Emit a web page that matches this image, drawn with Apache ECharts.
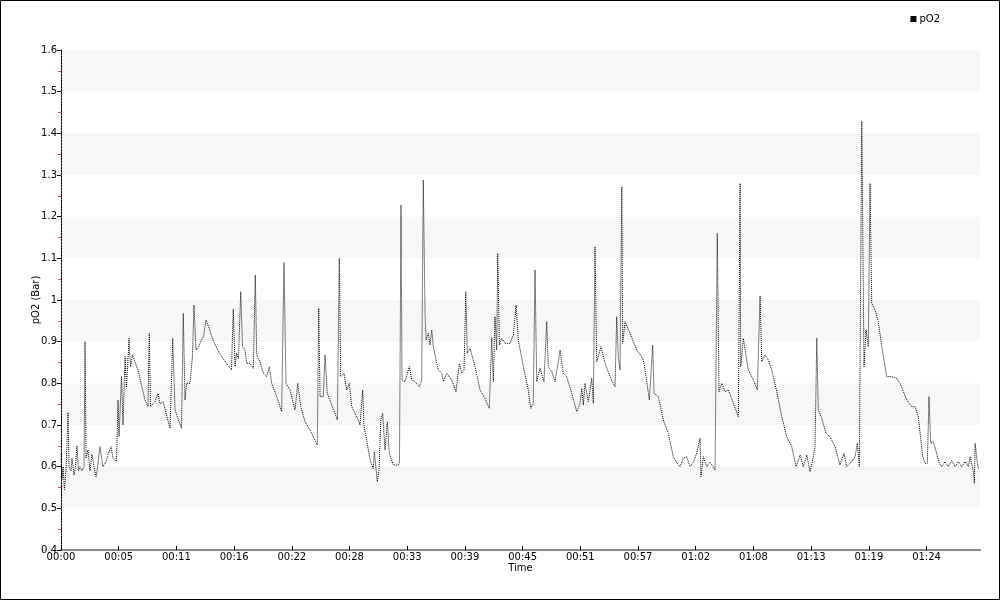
<!DOCTYPE html>
<html>
<head>
<meta charset="utf-8">
<script src="https://cdn.jsdelivr.net/npm/echarts@6/dist/echarts.min.js"></script>
<style>
html,body{margin:0;padding:0;background:#fff;}
#chart{width:1000px;height:600px;}
</style>
</head>
<body>
<div id="chart"></div>
<script>
// Time in minutes since start
const times = [0,0.10,0.20,0.34,0.49,0.69,0.79,0.98,1.08,1.28,1.42,1.57,1.72,1.87,2.06,2.26,2.36,2.46,2.65,2.85,3.04,3.24,3.44,3.54,3.83,4.12,4.42,4.62,4.91,5.11,5.45,5.60,5.70,5.94,6.09,6.29,6.43,6.68,6.83,7.02,7.56,8.25,8.54,8.67,8.79,9.23,9.53,9.72,10.02,10.71,10.97,11.20,11.83,12.01,12.18,12.33,12.67,12.91,13.06,13.26,13.50,13.80,14.00,14.24,14.49,14.98,15.62,16.25,16.74,16.92,17.09,17.24,17.43,17.65,17.83,18.07,18.24,18.56,18.89,19.08,19.22,19.54,19.87,20.20,20.46,20.69,21.18,21.67,21.90,22.10,22.49,22.98,23.25,23.54,23.96,24.45,25.17,25.31,25.44,25.76,25.93,26.15,26.59,27.14,27.33,27.47,27.79,28.06,28.31,28.55,28.87,29.20,29.36,29.63,29.76,30.02,30.35,30.67,30.77,31.06,31.23,31.40,31.59,31.82,32.05,32.24,32.64,33.13,33.24,33.39,33.49,33.78,34.21,34.44,34.77,35.19,35.42,35.58,35.75,35.85,36.07,36.24,36.41,36.56,36.83,37.06,37.39,37.55,37.88,38.37,38.79,39.12,39.35,39.58,39.75,39.90,40.17,40.66,41.15,41.64,42.06,42.30,42.46,42.62,42.79,42.89,43.05,43.28,43.61,44.10,44.42,44.69,44.91,45.40,45.89,46.13,46.38,46.55,46.72,47.04,47.43,47.70,47.85,48.19,48.51,48.84,49.01,49.33,49.66,50.06,50.65,50.97,51.14,51.30,51.46,51.79,52.12,52.28,52.44,52.61,53.03,53.43,53.92,54.41,54.57,54.73,54.90,55.07,55.16,55.39,55.71,56.21,56.54,57.03,57.26,57.78,58.11,58.24,58.66,59.15,59.64,60.13,60.47,60.79,61.12,61.45,61.78,62.10,62.43,62.76,62.85,63.08,63.41,63.74,64.03,64.23,64.45,64.62,64.89,65.21,65.54,66.03,66.52,66.69,66.75,67.01,67.18,67.50,67.99,68.38,68.65,68.82,69.14,69.46,69.80,70.29,70.78,71.27,71.76,72.19,72.58,72.90,73.24,73.56,73.88,74.05,74.22,74.37,74.71,75.13,75.52,76.01,76.50,76.90,77.16,77.65,77.98,78.20,78.40,78.64,78.86,79.06,79.28,79.45,79.62,79.94,80.27,80.60,81.09,81.58,82.07,82.40,83.06,83.55,83.87,84.19,84.63,84.85,85.08,85.24,85.41,85.67,86.00,86.26,86.49,86.81,87.14,87.47,87.80,88.13,88.46,88.78,89.11,89.28,89.60,89.70,89.77,89.99,90.11];
// pO2 in bar
const po2 = [0.63,0.57,0.60,0.545,0.59,0.73,0.60,0.59,0.62,0.58,0.60,0.65,0.59,0.60,0.59,0.60,0.90,0.62,0.64,0.59,0.63,0.60,0.576,0.59,0.648,0.60,0.612,0.63,0.648,0.62,0.612,0.76,0.672,0.816,0.70,0.864,0.79,0.908,0.84,0.868,0.832,0.76,0.744,0.92,0.744,0.756,0.776,0.75,0.756,0.692,0.908,0.736,0.692,0.968,0.76,0.80,0.80,0.864,0.988,0.88,0.888,0.904,0.912,0.952,0.936,0.90,0.87,0.848,0.832,0.978,0.84,0.872,0.86,1.02,0.888,0.88,0.848,0.848,0.836,1.06,0.868,0.852,0.824,0.816,0.84,0.80,0.768,0.732,1.09,0.80,0.784,0.736,0.80,0.744,0.708,0.688,0.652,0.98,0.768,0.768,0.868,0.776,0.748,0.712,1.10,0.816,0.824,0.784,0.80,0.744,0.728,0.712,0.70,0.784,0.696,0.664,0.616,0.596,0.636,0.564,0.59,0.712,0.728,0.64,0.708,0.632,0.604,0.604,0.61,1.228,0.808,0.804,0.84,0.808,0.804,0.792,0.808,1.288,0.968,0.904,0.92,0.892,0.928,0.888,0.856,0.832,0.824,0.804,0.824,0.808,0.78,0.848,0.824,0.832,1.02,0.872,0.884,0.84,0.784,0.764,0.74,0.91,0.804,0.96,0.88,1.112,0.892,0.908,0.896,0.896,0.916,0.988,0.904,0.84,0.784,0.74,0.752,1.072,0.804,0.836,0.804,0.948,0.84,0.828,0.804,0.852,0.88,0.824,0.816,0.784,0.732,0.752,0.788,0.748,0.80,0.756,0.812,0.752,1.128,0.852,0.888,0.848,0.816,0.792,0.96,0.864,0.832,1.272,0.896,0.948,0.93,0.90,0.88,0.864,0.848,0.76,0.892,0.776,0.768,0.712,0.68,0.624,0.61,0.60,0.62,0.624,0.60,0.61,0.632,0.668,0.576,0.624,0.60,0.61,0.60,0.592,1.16,0.78,0.80,0.78,0.784,0.752,0.72,1.28,0.84,0.908,0.88,0.832,0.808,0.784,1.01,0.852,0.868,0.856,0.832,0.78,0.72,0.672,0.648,0.60,0.628,0.60,0.628,0.588,0.624,0.648,0.908,0.736,0.716,0.68,0.672,0.648,0.604,0.632,0.60,0.612,0.624,0.656,0.60,1.43,0.84,0.928,0.888,1.28,0.992,0.976,0.948,0.888,0.816,0.816,0.812,0.80,0.76,0.744,0.744,0.72,0.624,0.608,0.608,0.768,0.656,0.66,0.632,0.608,0.60,0.612,0.60,0.615,0.60,0.612,0.60,0.612,0.60,0.624,0.588,0.56,0.656,0.61,0.595];
const xTickLabels = ['00:00','00:05','00:11','00:16','00:22','00:28','00:33','00:39','00:45','00:51','00:57','01:02','01:08','01:13','01:19','01:24'];
const seriesName = 'pO2';
const yAxisName = 'pO2 (Bar)';
const xAxisName = 'Time';

const xInterval = 17 / 3; // minutes between labelled ticks
const chart = echarts.init(document.getElementById('chart'), null, {renderer: 'canvas'});
const font = 'DejaVu Sans';
const data = times.map((t, i) => [t, po2[i]]);

chart.setOption({
  animation: false,
  backgroundColor: '#fff',
  textStyle: {fontFamily: font},
  graphic: [{
    type: 'rect', z: 100, silent: true,
    shape: {x: 0.5, y: 0.5, width: 999, height: 599},
    style: {fill: 'none', stroke: '#000', lineWidth: 1}
  }],
  legend: {
    right: 55, top: 9,
    itemWidth: 6, itemHeight: 6, itemGap: 10, icon: 'rect',
    textStyle: {fontFamily: font, fontSize: 10, color: '#000', padding: [0, 0, 0, -2]},
    data: [seriesName]
  },
  grid: {left: 61, right: 20, top: 50, bottom: 50, containLabel: false},
  xAxis: {
    type: 'value', min: 0, max: 90.25, interval: xInterval,
    name: xAxisName, nameLocation: 'middle', nameGap: 13, nameMoveOverlap: false,
    nameTextStyle: {fontFamily: font, fontSize: 10, color: '#000', verticalAlign: 'top'},
    axisLine: {show: true, lineStyle: {color: '#888', width: 2}},
    axisTick: {show: true, inside: true, length: 4, lineStyle: {color: '#000'}},
    axisLabel: {
      fontFamily: font, fontSize: 10, color: '#000', margin: 2,
      showMaxLabel: false,
      formatter: function (v) {
        const idx = Math.round(v / xInterval);
        if (Math.abs(idx * xInterval - v) > 0.01) return '';
        return xTickLabels[idx] || '';
      }
    },
    splitLine: {show: false}
  },
  yAxis: {
    type: 'value', min: 0.4, max: 1.6, interval: 0.1,
    name: yAxisName, nameLocation: 'middle', nameGap: 20, nameMoveOverlap: false,
    nameTextStyle: {fontFamily: font, fontSize: 10, color: '#000'},
    axisLine: {show: true, lineStyle: {color: '#000', width: 1, type: [2, 1]}},
    axisTick: {show: true, length: 4, lineStyle: {color: '#000'}},
    minorTick: {show: true, splitNumber: 2, length: 3, lineStyle: {color: '#ff4040'}},
    axisLabel: {
      fontFamily: font, fontSize: 10, color: '#000', margin: 4,
      formatter: function (v) { return String(Math.round(v * 10) / 10); }
    },
    splitLine: {show: false},
    splitArea: {show: true, areaStyle: {color: ['rgba(255,255,255,0)', '#f7f7f7']}}
  },
  series: [{
    name: seriesName,
    type: 'line',
    data: data,
    showSymbol: false,
    symbol: 'rect',
    itemStyle: {color: '#000'},
    lineStyle: {color: '#000', width: 1, type: [1, 1]}
  }]
});
</script>
</body>
</html>
